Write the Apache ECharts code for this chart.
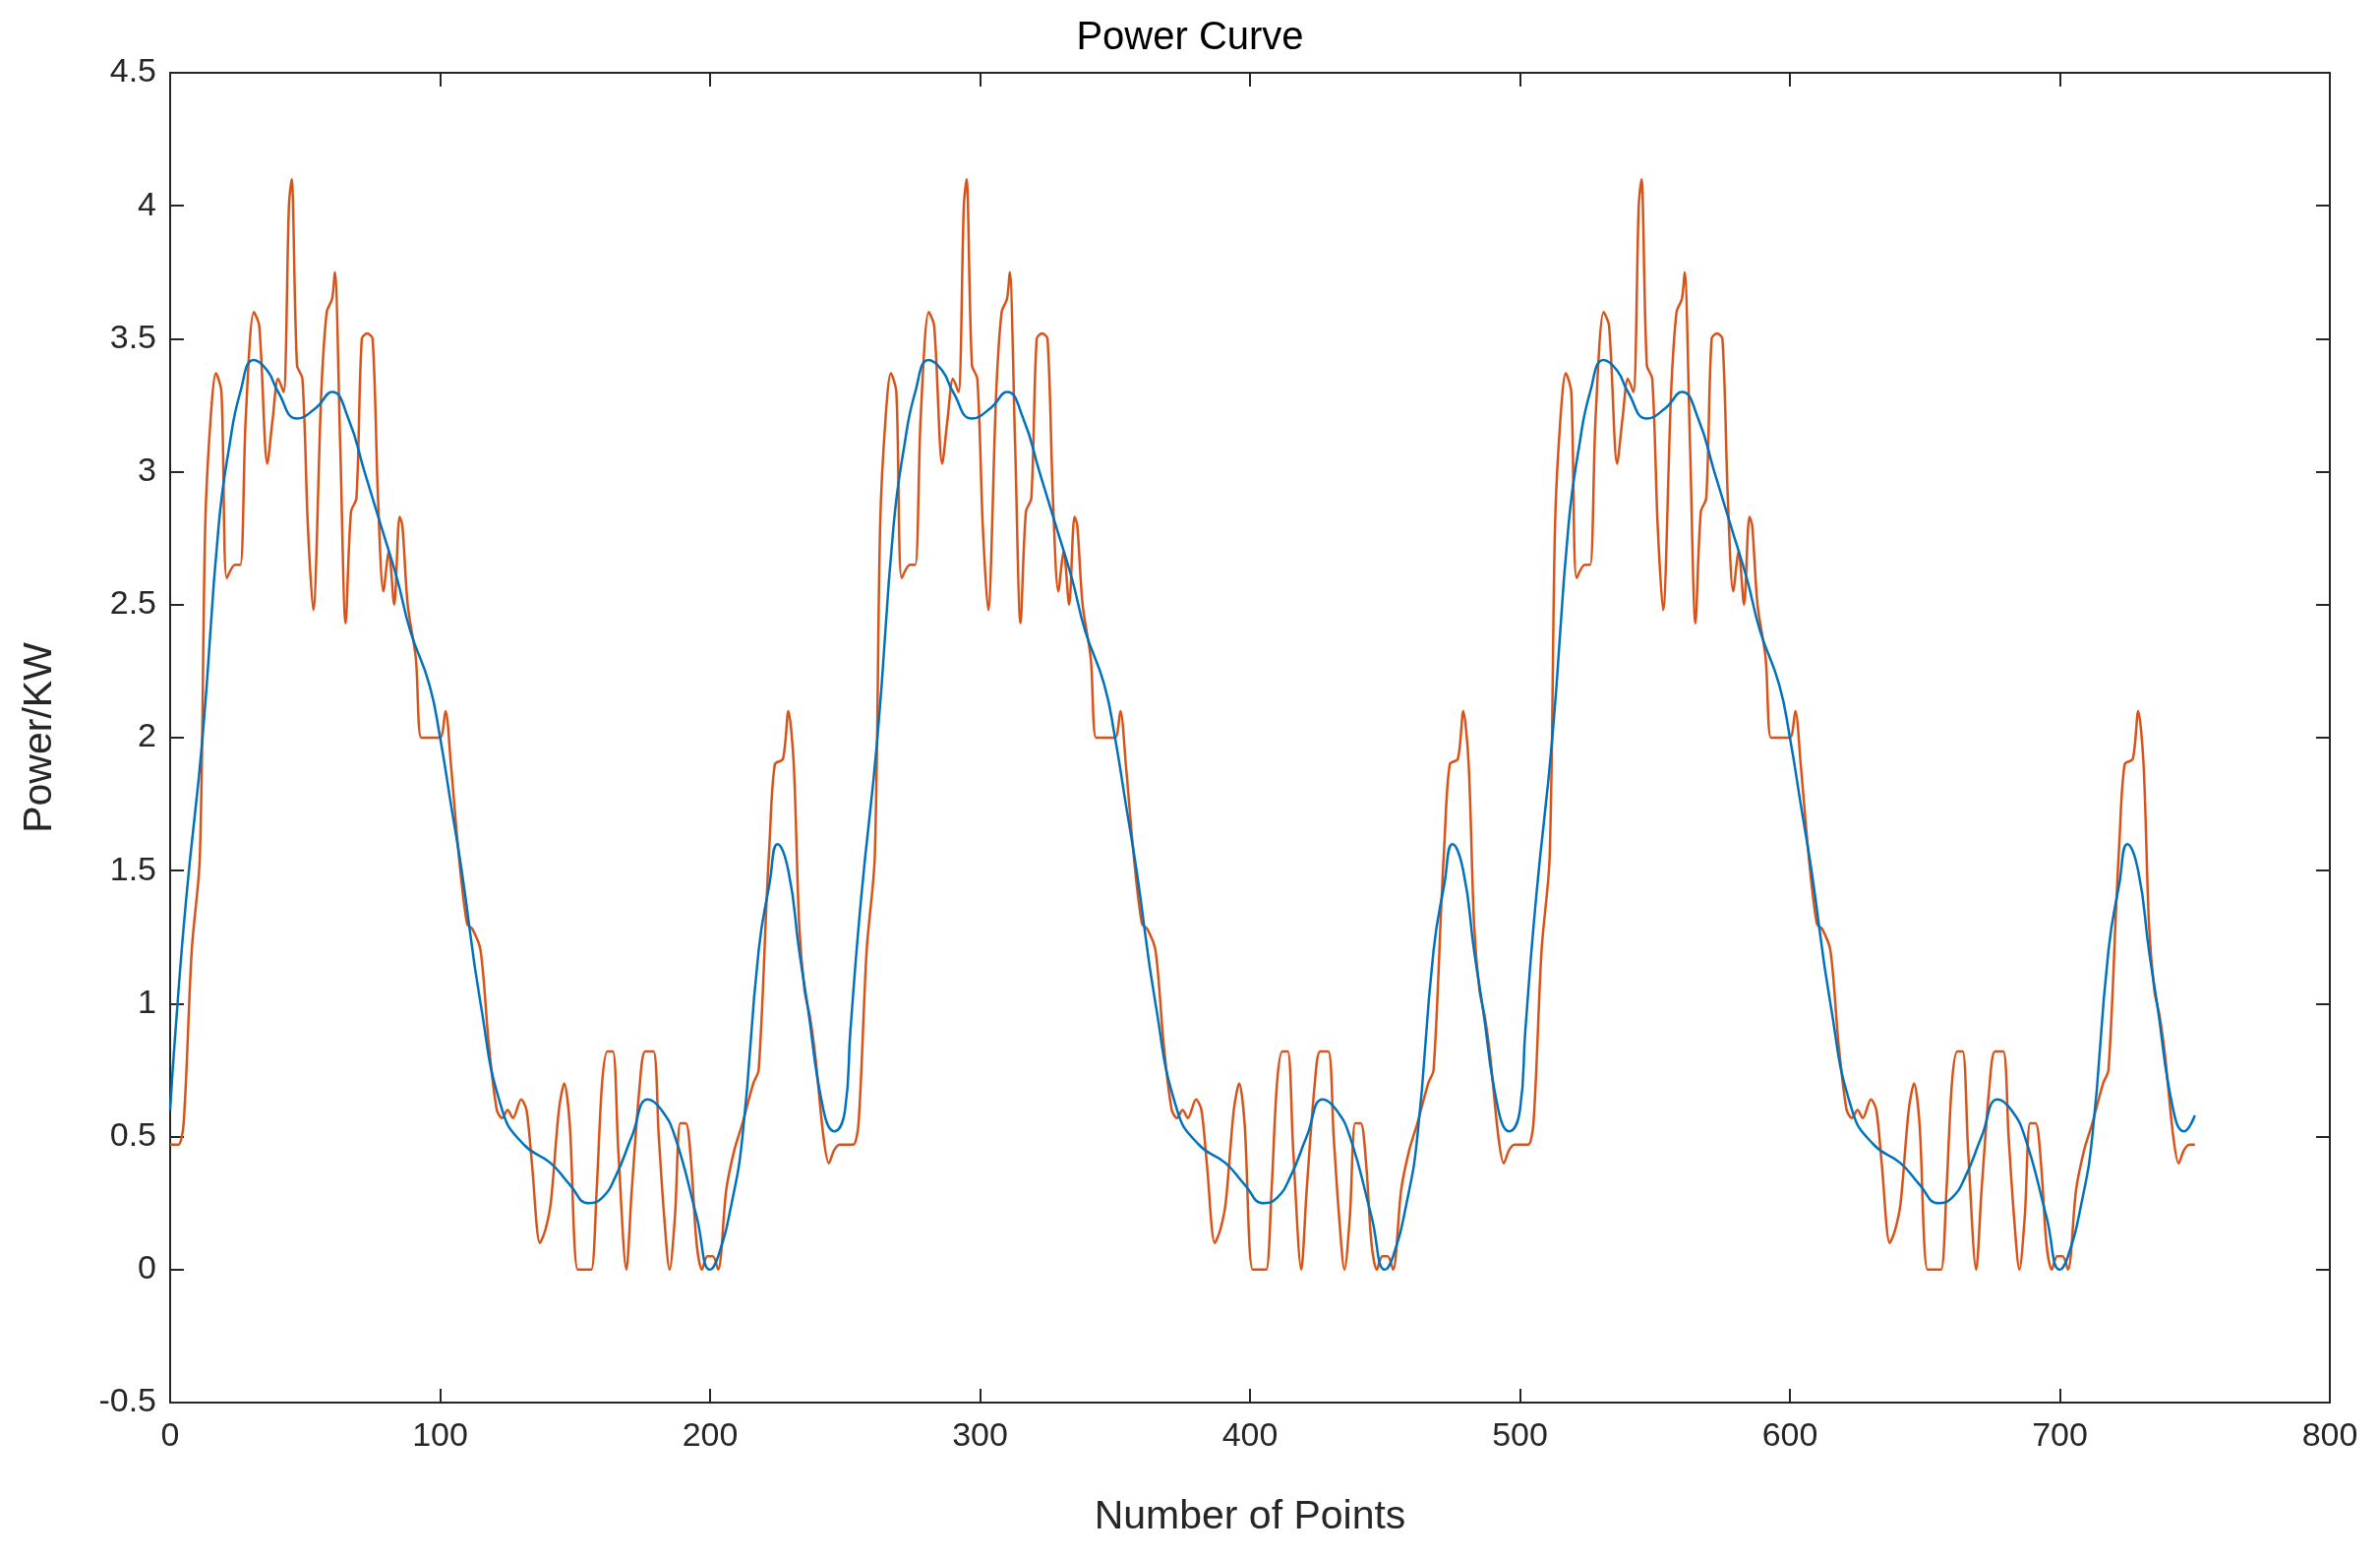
<!DOCTYPE html>
<html>
<head>
<meta charset="utf-8">
<script src="https://cdn.jsdelivr.net/npm/echarts@6/dist/echarts.min.js"></script>
<style>html,body{margin:0;padding:0;background:#fff}#chart{width:2420px;height:1583px}</style>
</head>
<body>
<div id="chart"></div>
<script>
// one period (x, value) of each curve
var periodLength = 250;
var periods = 3;
var blueX = [0,2,6,12,18,22,26,31,36,40,47,54,60,66,72,78,84,89,96,100,104,108,115,123,131,141,148,155,160,165,171,177,182,187,195,200,203,208,212,218,222,225,229,233,236,242,246];
var blueY = [0.6,0.9,1.4,2.0,2.8,3.1,3.3,3.42,3.38,3.3,3.2,3.24,3.3,3.2,3.0,2.8,2.6,2.4,2.2,2.0,1.75,1.5,1.0,0.6,0.47,0.4,0.32,0.25,0.27,0.35,0.5,0.64,0.6,0.5,0.2,0.0,0.05,0.25,0.5,1.2,1.45,1.6,1.5,1.2,1.0,0.6,0.52];
var orangeX = [0,3,5,8,11,13,15,17,19,21,24,26,28,31,33,36,38,40,42,44,45,47,49,51,53,56,58,60,61,63,65,67,69,71,73,75,77,79,81,83,85,86,88,91,93,96,100,102,104,107,110,112,115,118,121,123,125,127,130,132,134,137,139,141,144,146,148,151,154,156,158,160,162,164,166,169,171,174,176,179,181,183,185,187,189,191,193,195,197,199,201,203,206,209,212,216,218,221,222,224,227,229,231,233,235,237,239,242,244,246,248];
var orangeY = [0.47,0.47,0.55,1.2,1.55,2.8,3.2,3.37,3.3,2.6,2.65,2.65,3.2,3.6,3.55,3.03,3.2,3.35,3.3,4.0,4.1,3.4,3.35,2.8,2.48,3.3,3.6,3.65,3.75,3.1,2.43,2.85,2.9,3.5,3.52,3.5,2.9,2.55,2.7,2.5,2.83,2.8,2.5,2.3,2.0,2.0,2.0,2.1,1.9,1.55,1.3,1.28,1.2,0.85,0.6,0.57,0.6,0.57,0.64,0.6,0.4,0.1,0.15,0.25,0.6,0.7,0.55,0.0,0.0,0.0,0.3,0.7,0.82,0.82,0.45,0.0,0.3,0.7,0.82,0.82,0.5,0.2,0.0,0.2,0.55,0.55,0.4,0.1,0.0,0.05,0.05,0.0,0.3,0.45,0.55,0.7,0.75,1.4,1.6,1.9,1.92,2.1,1.9,1.3,1.05,0.95,0.8,0.5,0.4,0.45,0.47];
var lastX = 750;
var lastBlue = 0.58;
var lastOrange = 0.47;

function buildSeries(xs, ys, lastY) {
  var pts = [];
  for (var p = 0; p < periods; p++) {
    for (var i = 0; i < xs.length; i++) {
      pts.push([xs[i] + p * periodLength, ys[i]]);
    }
  }
  pts.push([lastX, lastY]);
  return pts;
}

var font = 'Liberation Sans, Arial, sans-serif';
var chart = echarts.init(document.getElementById('chart'));
var axisCommon = {
  axisLine: {show: true, onZero: false, lineStyle: {color: '#262626', width: 2}},
  axisTick: {show: true, inside: true, length: 14, lineStyle: {color: '#262626', width: 2}},
  splitLine: {show: false}
};
chart.setOption({
  animation: false,
  title: {text: 'Power Curve', left: 'center', top: 14,
    textStyle: {fontFamily: font, fontWeight: 'normal', fontSize: 40, color: '#000'}},
  grid: {left: 173, right: 51, top: 74, bottom: 157},
  xAxis: [
    Object.assign({type: 'value', min: 0, max: 800, interval: 100, name: 'Number of Points',
      nameLocation: 'middle', nameGap: 96,
      nameTextStyle: {fontFamily: font, fontSize: 41, color: '#262626'},
      axisLabel: {fontFamily: font, fontSize: 34, color: '#262626', margin: 18}}, axisCommon),
    Object.assign({type: 'value', min: 0, max: 800, interval: 100, position: 'top',
      axisLabel: {show: false}}, axisCommon)
  ],
  yAxis: [
    Object.assign({type: 'value', min: -0.5, max: 4.5, interval: 0.5, name: 'Power/KW',
      nameLocation: 'middle', nameGap: 112,
      nameTextStyle: {fontFamily: font, fontSize: 41, color: '#262626'},
      axisLabel: {fontFamily: font, fontSize: 34, color: '#262626', margin: 14}}, axisCommon),
    Object.assign({type: 'value', min: -0.5, max: 4.5, interval: 0.5, position: 'right',
      axisLabel: {show: false}}, axisCommon)
  ],
  series: [
    {type: 'line', data: buildSeries(orangeX, orangeY, lastOrange), smooth: 0.3, showSymbol: false,
      lineStyle: {color: '#D95319', width: 2.5}},
    {type: 'line', data: buildSeries(blueX, blueY, lastBlue), smooth: 0.5, showSymbol: false,
      lineStyle: {color: '#0072BD', width: 2.5}}
  ]
});
</script>
</body>
</html>
